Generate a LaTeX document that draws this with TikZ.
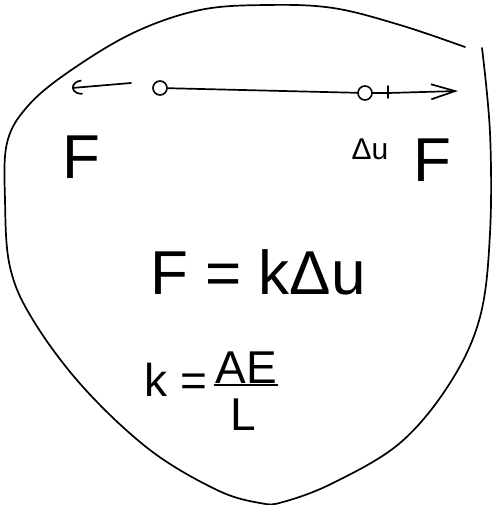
\documentclass[tikz,border=0pt]{standalone}
\usepackage{fontspec}
\setmainfont{Liberation Sans}
\usetikzlibrary{arrows.meta}
\begin{document}
\begin{tikzpicture}[x=1pt,y=-1pt,line width=1.7pt,line cap=round,line join=round,
  hinge/.style={draw,circle,minimum size=14pt,inner sep=0pt,line width=1.6pt},
  big/.style={font=\fontsize{62}{62}\selectfont,inner sep=0pt},
  mid/.style={font=\fontsize{46}{46}\selectfont,inner sep=0pt},
  small/.style={font=\fontsize{30}{30}\selectfont,inner sep=0pt}]
\fill[white] (0,0) rectangle (492,505);
\useasboundingbox (0,0) rectangle (492,505);
% outline
\draw plot[smooth,tension=0.6] coordinates {(465,47) (400,25) (333,8) (267,5) (200,10)
  (133,33) (67,73) (27,107) (7,143) (5,200) (10,267) (33,320) (83,387) (150,450)
  (217,490) (260,503) (283,502) (333,483) (400,443) (450,383) (480,317) (490,233)
  (490,133) (482,48)};
% bar
\node[hinge] (c1) at (160,88) {};
\node[hinge] (c2) at (365,93) {};
\draw (c1) -- (c2);
\coordinate (l1) at (131,83);
\coordinate (l2) at (72,88);
\draw[-{Arc Barb[length=10pt,width=15pt]}] (l1) -- (l2);
\coordinate (t0) at (388,93);
\coordinate (t1) at (388,86);
\coordinate (t2) at (388,98);
\coordinate (r2) at (458,91);
\draw (c2) -- (t0);
\draw (t1) -- (t2);
\draw[-{Straight Barb[length=24pt,width=15pt]}] (t0) -- (r2);
% labels
\node[big,anchor=base] (Fl) at (81,178) {F};
\node[big,anchor=base] (Fr) at (432,181) {F};
\node[small,anchor=base] (du) at (370,160) {Δu};
\node[big,anchor=base] (eq1) at (258,294) {F = kΔu};
\node[mid,anchor=base] (k) at (176,396) {k =};
\node[mid,anchor=base] (AE) at (246,383) {AE};
\node[mid,anchor=base] (L) at (243,430) {L};
\draw[line width=1.6pt] ([yshift=-2pt]AE.base west) -- ([yshift=-2pt]AE.base east);
\end{tikzpicture}
\end{document}
